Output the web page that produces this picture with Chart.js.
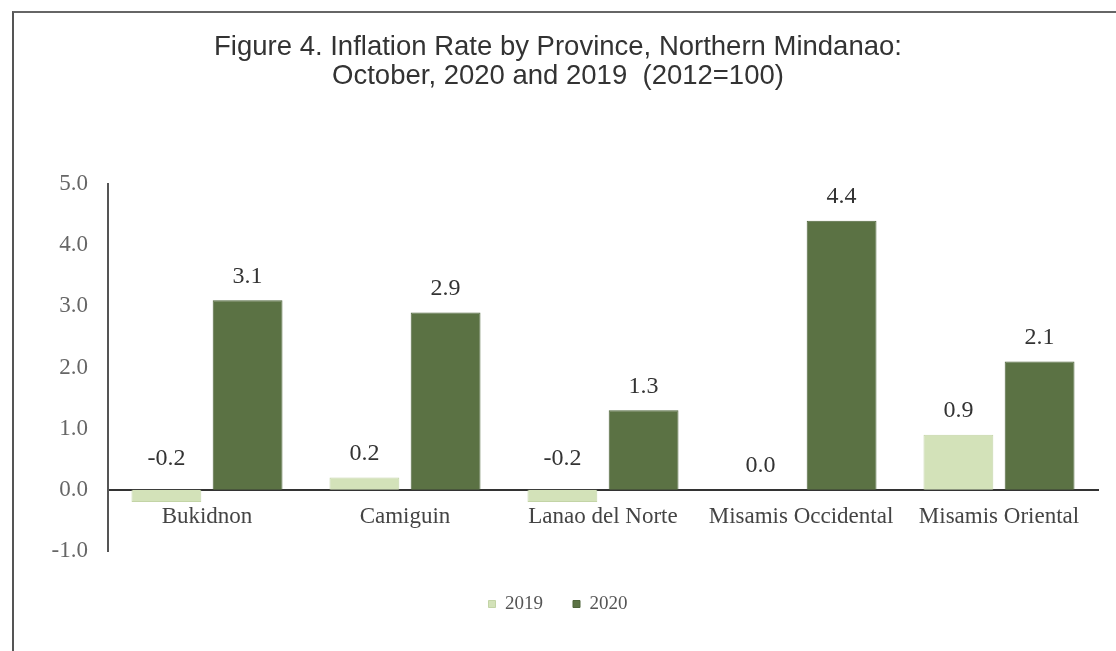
<!DOCTYPE html>
<html>
<head>
<meta charset="utf-8">
<script src="https://cdn.jsdelivr.net/npm/chart.js@4.4.1/dist/chart.umd.min.js"></script>
<style>
  html, body { margin: 0; padding: 0; background: #fff; }
  #wrap { position: relative; width: 1116px; height: 651px; overflow: hidden; }
  #frame { position: absolute; left: 12px; top: 11px; width: 1200px; height: 700px;
           border-left: 2px solid #555; border-top: 2px solid #666; }
  canvas { position: absolute; left: 0; top: 0; }
</style>
</head>
<body>
<div id="wrap">
  <div id="frame"></div>
  <canvas id="inflationChart" width="1116" height="651"></canvas>
</div>
<script>
// datos
const provinces = ["Bukidnon", "Camiguin", "Lanao del Norte", "Misamis Occidental", "Misamis Oriental"];
const rates2019 = [-0.2, 0.2, -0.2, 0.0, 0.9];
const rates2020 = [3.1, 2.9, 1.3, 4.4, 2.1];
const yTicks = [-1, 0, 1, 2, 3, 4, 5];

// etiquetas de valor encima de cada barra
const barLabels = {
    id: "barLabels",
    afterDatasetsDraw(chart) {
        const ctx = chart.ctx;
        const zero = chart.scales.y.getPixelForValue(0);
        ctx.save();
        ctx.font = "24px 'Liberation Serif'";
        ctx.fillStyle = "#333";
        ctx.textAlign = "center";
        ctx.textBaseline = "middle";
        chart.data.datasets.forEach((ds, i) => {
            chart.getDatasetMeta(i).data.forEach((bar, j) => {
                const v = ds.data[j];
                const y = v < 0 ? zero - 31 : bar.y - 24;
                ctx.fillText(v.toFixed(1), bar.x, y);
            });
        });
        ctx.restore();
    }
};

function initChart() {
    const canvas = document.getElementById("inflationChart");
    new Chart(canvas, {
        type: "bar",
        data: {
            labels: provinces,
            datasets: [{
                label: "2019",
                data: rates2019,
                backgroundColor: "#d3e2b9", // verde claro
                borderColor: "#c3d4a6",
                borderWidth: 1,
                categoryPercentage: 0.82,
                barPercentage: 0.86
            },
                {
                    label: "2020",
                    data: rates2020,
                    backgroundColor: "#5b7244", // verde oscuro
                    borderColor: "#4f653b",
                    borderWidth: 1,
                    categoryPercentage: 0.82,
                    barPercentage: 0.86
                }]
        },
        options: {
            responsive: false,
            animation: false,
            devicePixelRatio: 1,
            layout: {
                padding: { left: 18, right: 18, bottom: 27.5 }
            },
            plugins: {
                title: {
                    display: true,
                    text: ["Figure 4. Inflation Rate by Province, Northern Mindanao:", "October, 2020 and 2019  (2012=100)"],
                    color: "#333",
                    font: { family: "'Liberation Sans'", size: 27.5, weight: "normal", lineHeight: 1.055 },
                    padding: { top: 33, bottom: 93 }
                },
                legend: {
                    position: "bottom",
                    title: { display: true, text: " ", padding: 0, font: { size: 13.5, lineHeight: 1 } },
                    labels: {
                        color: "#555",
                        font: { family: "'Liberation Serif'", size: 19 },
                        boxWidth: 7,
                        boxHeight: 7,
                        padding: 30
                    }
                },
                tooltip: { enabled: false }
            },
            scales: {
                x: {
                    position: { y: 0 },
                    grid: { display: false, drawTicks: false },
                    border: { display: true, color: "#333", width: 2 },
                    ticks: {
                        color: "#444",
                        font: { family: "'Liberation Serif'", size: 23 },
                        padding: 13,
                        maxRotation: 0
                    }
                },
                y: {
                    min: -1,
                    max: 5,
                    afterBuildTicks(scale) {
                        scale.ticks = yTicks.map(v => ({ value: v }));
                    },
                    afterFit(scale) {
                        scale.width = 90;
                    },
                    grid: { display: false, drawTicks: false },
                    border: { display: true, color: "#555", width: 2 },
                    ticks: {
                        color: "#666",
                        font: { family: "'Liberation Serif'", size: 23 },
                        padding: 20,
                        callback: v => v.toFixed(1)
                    }
                }
            }
        },
        plugins: [barLabels]
    });
}

document.addEventListener("DOMContentLoaded", initChart);
</script>
</body>
</html>
